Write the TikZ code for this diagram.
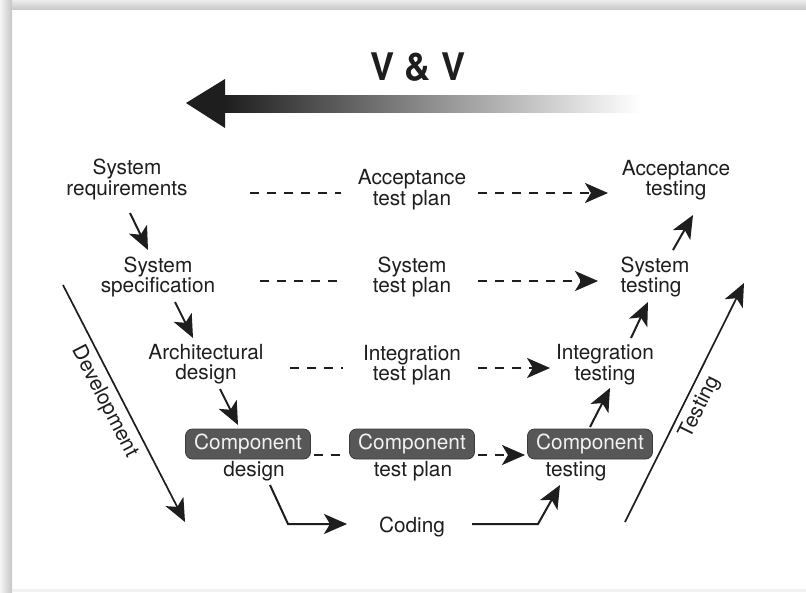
\documentclass[tikz,border=0pt]{standalone}
\usepackage{fontspec}
\setmainfont{TeX Gyre Heros}
\usetikzlibrary{arrows.meta}
\definecolor{ink}{HTML}{1E1E1E}
\definecolor{boxfill}{HTML}{575757}
\definecolor{boxline}{HTML}{3C3C3C}
\definecolor{boxtext}{HTML}{F2F2F2}
\begin{document}
\begin{tikzpicture}[x=1pt,y=-1pt,
  lbl/.style={font=\fontsize{20.8}{20.5}\selectfont, text=ink, inner sep=0pt, align=center},
  comp/.style={font=\fontsize{20.8}{20.5}\selectfont, text=boxtext, fill=boxfill, draw=boxline,
    line width=0.8pt, rounded corners=7pt, minimum width=125pt, minimum height=30pt, inner sep=0pt},
  tip/.style={-{Stealth[length=23pt,width=20pt,inset=6pt]}},
  arr/.style={draw=ink, line width=2pt, tip},
  dl/.style={draw=ink, line width=2pt, dash pattern=on 9pt off 8pt},
  dla/.style={dl, tip},
]
\useasboundingbox (0,0) rectangle (806,592);
% page frame
\fill[white] (0,0) rectangle (806,592);
\shade[top color=gray!15, bottom color=gray!42] (0,0) rectangle (806,9);
\shade[left color=gray!8, right color=gray!45] (0,0) rectangle (12,592);
\fill[gray!12] (12,589) rectangle (806,592);

% V & V banner arrow
\node[font=\bfseries\fontsize{38}{40}\selectfont, text=ink, inner sep=0pt, xscale=0.95] (vv) at (418,67) {V \& V};
\shade[left color=ink, right color=white] (224,95) rectangle (640,112);
\fill[ink] (186,103) -- (225,79) -- (225,128) -- cycle;

% left column: development steps
\node[lbl] (sreq) at (127,179.5) {System\\requirements};
\node[lbl] (sspec) at (158,277) {System\\specification};
\node[lbl] (arch) at (206,364) {Architectural\\design};
\node[comp] (cd) at (248,444) {Component};
\node[lbl] (cdt) at (254,471) {design};

% middle column: test plans
\node[lbl] (atp) at (412,189.5) {Acceptance\\test plan};
\node[lbl] (stp) at (412,277) {System\\test plan};
\node[lbl] (itp) at (412,365) {Integration\\test plan};
\node[comp] (ctp) at (412,444) {Component};
\node[lbl] (ctpt) at (413,471) {test plan};
\node[lbl] (coding) at (412,527) {Coding};

% right column: testing steps
\node[lbl] (ates) at (676,180) {Acceptance\\testing};
\node[lbl, align=left] (stes) at (655,277) {System\\testing};
\node[lbl] (ites) at (605,364.5) {Integration\\testing};
\node[comp] (ctes) at (590,444) {Component};
\node[lbl] (ctest) at (576,471) {testing};

% development flow
\draw[arr] ([shift={(3,33.5)}]sreq.center) -- ([shift={(-10,-27)}]sspec.center);
\draw[arr] ([shift={(17,25)}]sspec.center) -- ([shift={(-13,-26)}]arch.center);
\draw[arr] ([shift={(14,25)}]arch.center) -- ([shift={(-10,-19)}]cd.center);
\draw[arr] ([shift={(16,14)}]cdt.center) -- ++(18,39) -- ([shift={(-65,-3)}]coding.center);
\draw[arr] ([shift={(60,-3)}]coding.center) -- ++(66,0) -- ([shift={(-16,14)}]ctest.center);

% testing flow
\draw[arr] ([shift={(0,-17)}]ctes.center) -- ([shift={(5,23.5)}]ites.center);
\draw[arr] ([shift={(26,-26.5)}]ites.center) -- ([shift={(-7,25)}]stes.center);
\draw[arr] ([shift={(18,-27)}]stes.center) -- ([shift={(17,35)}]ates.center);

% plans link each level
\draw[dl] ([shift={(123,13.5)}]sreq.center) -- ([shift={(-71,3.5)}]atp.center);
\draw[dla] ([shift={(66,3.5)}]atp.center) -- ([shift={(-68,13)}]ates.center);
\draw[dl] ([shift={(102,4)}]sspec.center) -- ([shift={(-69,4)}]stp.center);
\draw[dla] ([shift={(66,4)}]stp.center) -- ([shift={(-57,4)}]stes.center);
\draw[dl] ([shift={(84,4)}]arch.center) -- ([shift={(-69,3)}]itp.center);
\draw[dla] ([shift={(66,3)}]itp.center) -- ([shift={(-55,3.5)}]ites.center);
\draw[dl] ([shift={(66,11)}]cd.center) -- ([shift={(-72,11)}]ctp.center);
\draw[dla] ([shift={(66,11)}]ctp.center) -- ([shift={(-65,11)}]ctes.center);

% side arrows
\coordinate (devS) at (63,285);
\coordinate (devE) at (185,522);
\coordinate (tstS) at (625,522);
\coordinate (tstE) at (744,283);
\draw[draw=ink, line width=1.7pt, tip] (devS) -- (devE)
  node[lbl, pos=0.46, below=6pt, sloped] {Development};
\draw[draw=ink, line width=1.7pt, tip] (tstS) -- (tstE)
  node[lbl, pos=0.51, below=5pt, sloped] {Testing};
\end{tikzpicture}
\end{document}
